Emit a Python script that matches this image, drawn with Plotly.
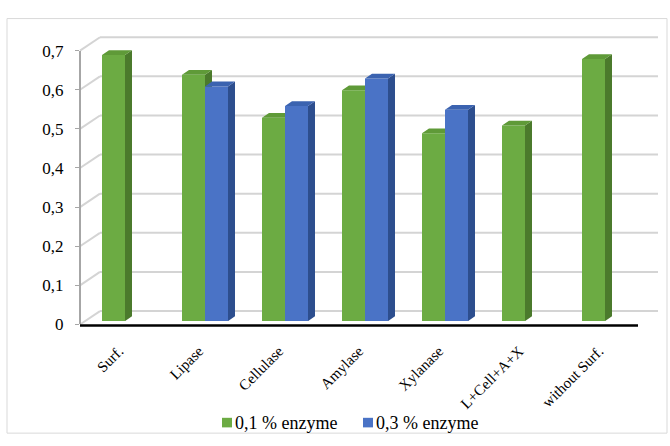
import plotly.graph_objects as go

# ---- data ----
categories = ["Surf.", "Lipase", "Cellulase", "Amylase", "Xylanase", "L+Cell+A+X", "without Surf."]
enzyme_01 = [0.68, 0.63, 0.52, 0.59, 0.48, 0.50, 0.67]
enzyme_03 = [None, 0.60, 0.55, 0.62, 0.54, None, None]
series_names = ["0,1 % enzyme", "0,3 % enzyme"]
y_ticks = [0, 0.1, 0.2, 0.3, 0.4, 0.5, 0.6, 0.7]

W, H = 670, 446
FONT = "Liberation Serif"


def px(x):
    return x / W


def py(y):
    return 1 - y / H


# pixel geometry of the pseudo-3D box
FRONT_L, FRONT_R = 80, 638
BACK_L, BACK_R = 100, 658
FRONT_Y0, BACK_Y0 = 329.5, 315.5
UNIT = 408.6  # pixels per 1.0 on the value axis
BAR_Y0 = 326.0
BAR_X0, BAR_X1 = 85, 645
LABEL_SHIFT = 6  # category labels sit slightly left of their bar groups

n = len(categories)
idx = list(range(n))
bar_w = 23 / 80          # width of one bar in category units
dx = 7 / 80              # depth offset of side/top faces (x units)
dy = 5 / UNIT            # depth offset of side/top faces (y units)


def faces(vals, left_off):
    side_x, side_y, top_x, top_y = [], [], [], []
    for i, v in enumerate(vals):
        if v is None:
            continue
        xl = i + left_off
        xr = xl + bar_w
        side_x += [xr, xr, xr + dx, xr + dx, xr, None]
        side_y += [0, v, v + dy, dy, 0, None]
        top_x += [xl, xr, xr + dx, xl + dx, xl, None]
        top_y += [v, v, v + dy, v + dy, v, None]
    return side_x, side_y, top_x, top_y


fig = go.Figure()

series = [
    (series_names[0], enzyme_01, -bar_w, "#6cab43", "#4b7a2c", "#5f9a38", "x", "y"),
    (series_names[1], enzyme_03, 0.0, "#4a73c6", "#2d4e8e", "#3b63b0", "x2", "y2"),
]
for name, vals, off, c_front, c_side, c_top, xa, ya in series:
    fig.add_trace(go.Bar(
        x=idx, y=vals, width=bar_w, offset=off, name=name,
        marker=dict(color=c_front, line=dict(width=0)),
        xaxis=xa, yaxis=ya, hoverinfo="skip", showlegend=False,
    ))
    sx, sy, tx, ty = faces(vals, off)
    fig.add_trace(go.Scatter(x=sx, y=sy, fill="toself", mode="lines",
                             line=dict(width=0, color=c_side), fillcolor=c_side,
                             showlegend=False, hoverinfo="skip", xaxis=xa, yaxis=ya))
    fig.add_trace(go.Scatter(x=tx, y=ty, fill="toself", mode="lines",
                             line=dict(width=0, color=c_top), fillcolor=c_top,
                             showlegend=False, hoverinfo="skip", xaxis=xa, yaxis=ya))

# invisible trace holding the front value axis and the category labels
fig.add_trace(go.Scatter(x=[0], y=[0], mode="markers", marker=dict(opacity=0),
                         showlegend=False, hoverinfo="skip", xaxis="x3", yaxis="y3"))

shapes = []
# back wall gridlines and the diagonal joints to the front axis
for t in y_ticks:
    yb = BACK_Y0 - t * UNIT
    yf = FRONT_Y0 - t * UNIT
    shapes.append(dict(type="line", xref="paper", yref="paper", layer="below",
                       x0=px(BACK_L), x1=px(BACK_R), y0=py(yb), y1=py(yb),
                       line=dict(color="#d4d4d4", width=2)))
    shapes.append(dict(type="line", xref="paper", yref="paper", layer="below",
                       x0=px(FRONT_L), x1=px(BACK_L), y0=py(yf), y1=py(yb),
                       line=dict(color="#d4d4d4", width=2)))
# floor front edge
shapes.append(dict(type="line", xref="paper", yref="paper", layer="below",
                   x0=px(FRONT_L), x1=px(FRONT_R), y0=py(FRONT_Y0 + 1), y1=py(FRONT_Y0 + 1),
                   line=dict(color="#000000", width=2.5)))
# outer chart border
shapes.append(dict(type="rect", xref="paper", yref="paper", layer="below",
                   x0=px(7), x1=px(667), y0=py(443), y1=py(10),
                   line=dict(color="#d9d9d9", width=1)))

# legend: colour squares followed by their labels
annotations = []
legend_items = [(series_names[0], "#6cab43", 222), (series_names[1], "#4a73c6", 363)]
for label, col, x_sq in legend_items:
    shapes.append(dict(type="rect", xref="paper", yref="paper", layer="above",
                       x0=px(x_sq), x1=px(x_sq + 10), y0=py(437), y1=py(427),
                       fillcolor=col, line=dict(width=0)))
    annotations.append(dict(text=label, xref="paper", yref="paper",
                            x=px(x_sq + 11), y=py(432), xanchor="left", yanchor="middle",
                            showarrow=False, font=dict(size=18, family=FONT, color="black")))

bar_ydom = [py(BAR_Y0), py(BAR_Y0 - 0.7 * UNIT)]
fig.update_layout(
    width=W, height=H,
    margin=dict(l=0, r=0, t=0, b=0),
    paper_bgcolor="white", plot_bgcolor="rgba(0,0,0,0)",
    separators=", ",
    font=dict(family=FONT, color="black"),
    barmode="overlay",
    showlegend=False,
    xaxis=dict(domain=[px(BAR_X0), px(BAR_X1)], range=[-0.5, n - 0.5], anchor="y",
               visible=False),
    yaxis=dict(domain=bar_ydom, range=[0, 0.7], anchor="x", visible=False),
    xaxis2=dict(overlaying="x", matches="x", visible=False, anchor="y2"),
    yaxis2=dict(overlaying="y", matches="y", visible=False, anchor="x2"),
    xaxis3=dict(domain=[px(BAR_X0 - LABEL_SHIFT), px(BAR_X1 - LABEL_SHIFT)],
                range=[-0.5, n - 0.5], anchor="y3",
                tickvals=idx, ticktext=categories, tickangle=-45,
                tickfont=dict(size=15, family=FONT, color="black"), showgrid=False,
                zeroline=False, showline=False, ticks="", ticklabelstandoff=14),
    yaxis3=dict(domain=[py(FRONT_Y0), py(FRONT_Y0 - 0.7 * UNIT)], range=[0, 0.7],
                anchor="free", position=px(FRONT_L), tickvals=y_ticks,
                ticktext=[str(t).replace(".", ",") if t else "0" for t in y_ticks],
                tickfont=dict(size=17, family=FONT, color="black"), showgrid=False, zeroline=False,
                showline=True, linecolor="#a6a6a6", linewidth=2,
                ticks="outside", ticklen=4, tickcolor="#a6a6a6", tickwidth=1,
                ticklabelstandoff=8),
    shapes=shapes,
    annotations=annotations,
)

fig.write_html("out.html")
